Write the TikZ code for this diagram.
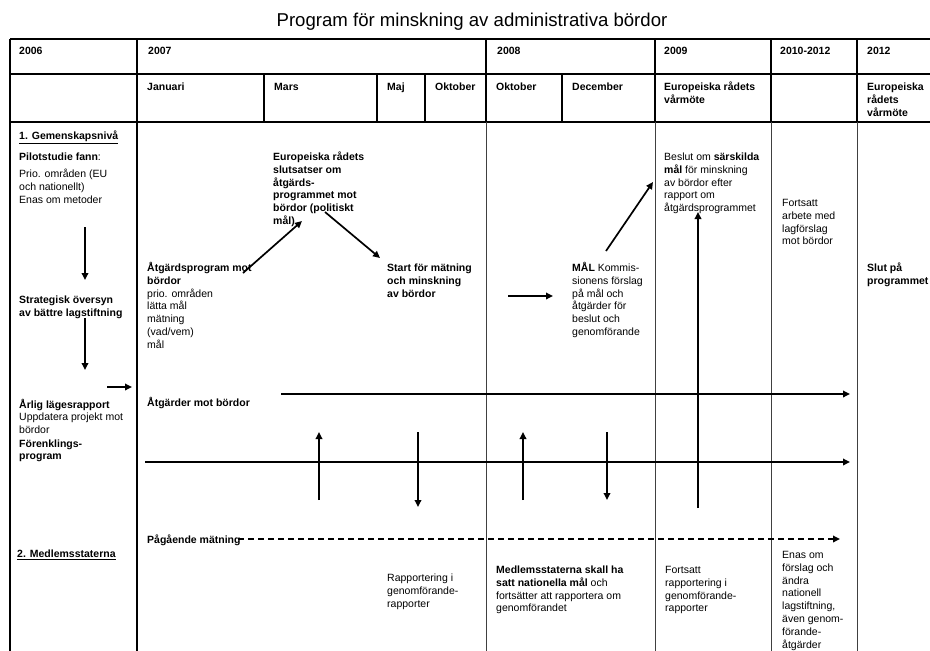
\documentclass[tikz,border=0pt]{standalone}
\usepackage{fontspec}
\setmainfont{Liberation Sans}
\usetikzlibrary{arrows.meta}
\newcommand{\mytab}[1]{\begin{tabular}[t]{@{}l@{}}#1\end{tabular}}
\begin{document}
\begin{tikzpicture}[x=1pt,y=-1pt,
  txt/.style={anchor=base west,inner sep=0pt,font=\fontsize{10.5}{12.8}\selectfont},
  btxt/.style={txt,font=\fontsize{10.5}{12.8}\selectfont\bfseries},
  gridline/.style={line width=1.2pt},
  bodyline/.style={line width=1pt,black!75},
  arr/.style={line width=1.7pt,-{Triangle[length=7pt,width=6.5pt]}},
  ]
\useasboundingbox (0,0) rectangle (930,651);
% title
\node[inner sep=0pt,font=\fontsize{18.6}{20}\selectfont] (title) at (472,22) {Program för minskning av administrativa bördor};
% grid
\draw[gridline] (10,39) -- (930,39);
\draw[gridline] (10,74) -- (930,74);
\draw[gridline] (10,122) -- (930,122);
\draw[gridline] (10,39) -- (10,651);
\draw[gridline] (137,39) -- (137,651);
\draw[gridline] (486,39) -- (486,122);
\draw[bodyline] (486,122) -- (486,651);
\draw[gridline] (655,39) -- (655,122);
\draw[bodyline] (655,122) -- (655,651);
\draw[gridline] (771,39) -- (771,122);
\draw[bodyline] (771,122) -- (771,651);
\draw[gridline] (857,39) -- (857,122);
\draw[bodyline] (857,122) -- (857,651);
\foreach \xx in {264,377,425,562} \draw[gridline] (\xx,74) -- (\xx,122);
% header row 1
\node[btxt] (h2006) at (19,54.5) {2006};
\node[btxt] (h2007) at (148,54.5) {2007};
\node[btxt] (h2008) at (497,54.5) {2008};
\node[btxt] (h2009) at (664,54.5) {2009};
\node[btxt] (h2010) at (780,54.5) {2010-2012};
\node[btxt] (h2012) at (867,54.5) {2012};
% header row 2
\node[btxt] (jan) at (147,90.5) {Januari};
\node[btxt] (mar) at (274,90.5) {Mars};
\node[btxt] (maj) at (387,90.5) {Maj};
\node[btxt] (okt1) at (435,90.5) {Oktober};
\node[btxt] (okt2) at (496,90.5) {Oktober};
\node[btxt] (dec) at (572,90.5) {December};
\node[btxt] (erv1) at (664,90.5) {\mytab{Europeiska rådets\\vårmöte}};
\node[btxt] (erv2) at (867,90.5) {\mytab{Europeiska\\rådets\\vårmöte}};
% column 2006
\node[btxt] (gem) at (19,139.5) {\underline{1. Gemenskapsnivå}};
\node[txt] (pilot) at (19,160.5) {\textbf{Pilotstudie fann}:};
\node[txt] (prio) at (19,177.5) {\mytab{Prio. områden (EU\\och nationellt)}};
\node[txt] (enas) at (19,203.5) {Enas om metoder};
\node[btxt] (strat) at (19,303.5) {\mytab{Strategisk översyn\\av bättre lagstiftning}};
\node[btxt] (arlig) at (19,408.5) {Årlig lägesrapport};
\node[txt] (uppd) at (19,420.5) {\mytab{Uppdatera projekt mot\\bördor}};
\node[btxt] (forenk) at (19,447) {\mytab{Förenklings-\\program}};
\node[btxt] (medl) at (17,557.5) {\underline{2. Medlemsstaterna}};
% column 2007
\node[txt] (atgprog) at (147,271.5) {\mytab{\textbf{Åtgärdsprogram mot}\\\textbf{bördor}\\prio. områden\\lätta mål\\mätning\\(vad/vem)\\mål}};
\node[btxt] (atgmot) at (147,406.5) {Åtgärder mot bördor};
\node[btxt] (pag) at (147,543.5) {Pågående mätning};
\node[btxt] (eur) at (273,160.5) {\mytab{Europeiska rådets\\slutsatser om\\åtgärds-\\programmet mot\\bördor (politiskt\\mål)}};
\node[btxt] (start) at (387,271.5) {\mytab{Start för mätning\\och minskning\\av bördor}};
\node[txt] (rapp) at (387,581.5) {\mytab{Rapportering i\\genomförande-\\rapporter}};
% column 2008
\node[txt] (mal) at (572,271.5) {\mytab{\textbf{MÅL} Kommis-\\sionens förslag\\på mål och\\åtgärder för\\beslut och\\genomförande}};
\node[txt] (medlsk) at (496,573.5) {\mytab{\textbf{Medlemsstaterna skall ha}\\\textbf{satt nationella mål} och\\fortsätter att rapportera om\\genomförandet}};
% column 2009
\node[txt] (beslut) at (664,160.5) {\mytab{Beslut om \textbf{särskilda}\\\textbf{mål} för minskning\\av bördor efter\\rapport om\\åtgärdsprogrammet}};
\node[txt] (forts1) at (665,573.5) {\mytab{Fortsatt\\rapportering i\\genomförande-\\rapporter}};
% column 2010-2012
\node[txt] (forts2) at (782,206.5) {\mytab{Fortsatt\\arbete med\\lagförslag\\mot bördor}};
\node[txt] (enas2) at (782,558.5) {\mytab{Enas om\\förslag och\\ändra\\nationell\\lagstiftning,\\även genom-\\förande-\\åtgärder}};
% column 2012
\node[btxt] (slut) at (867,271.5) {\mytab{Slut på\\programmet}};
% arrow end points
\coordinate (a1s) at (85,227); \coordinate (a1e) at (85,280);
\coordinate (a2s) at (85,318); \coordinate (a2e) at (85,370);
\coordinate (a3s) at (107,387); \coordinate (a3e) at (132,387);
\coordinate (a4s) at (243,273); \coordinate (a4e) at (302,221);
\coordinate (a5s) at (325,212); \coordinate (a5e) at (380,258);
\coordinate (a6s) at (508,296); \coordinate (a6e) at (553,296);
\coordinate (a7s) at (606,251); \coordinate (a7e) at (653,182);
\coordinate (a8s) at (698,508); \coordinate (a8e) at (698,212);
\coordinate (l1s) at (281,394); \coordinate (l1e) at (850,394);
\coordinate (l2s) at (145,462); \coordinate (l2e) at (850,462);
\coordinate (u1s) at (319,500); \coordinate (u1e) at (319,432);
\coordinate (d1s) at (418,432); \coordinate (d1e) at (418,507);
\coordinate (u2s) at (523,500); \coordinate (u2e) at (523,432);
\coordinate (d2s) at (607,432); \coordinate (d2e) at (607,500);
\coordinate (dss) at (238,539); \coordinate (dse) at (840,539);
\draw[arr] (a1s) -- (a1e);
\draw[arr] (a2s) -- (a2e);
\draw[arr] (a3s) -- (a3e);
\draw[arr] (a4s) -- (a4e);
\draw[arr] (a5s) -- (a5e);
\draw[arr] (a6s) -- (a6e);
\draw[arr] (a7s) -- (a7e);
\draw[arr,line width=2.2pt] (a8s) -- (a8e);
\draw[arr] (l1s) -- (l1e);
\draw[arr] (l2s) -- (l2e);
\draw[arr] (u1s) -- (u1e);
\draw[arr] (d1s) -- (d1e);
\draw[arr] (u2s) -- (u2e);
\draw[arr] (d2s) -- (d2e);
\draw[arr,dashed,dash pattern=on 6pt off 4pt] (dss) -- (dse);
\end{tikzpicture}
\end{document}
